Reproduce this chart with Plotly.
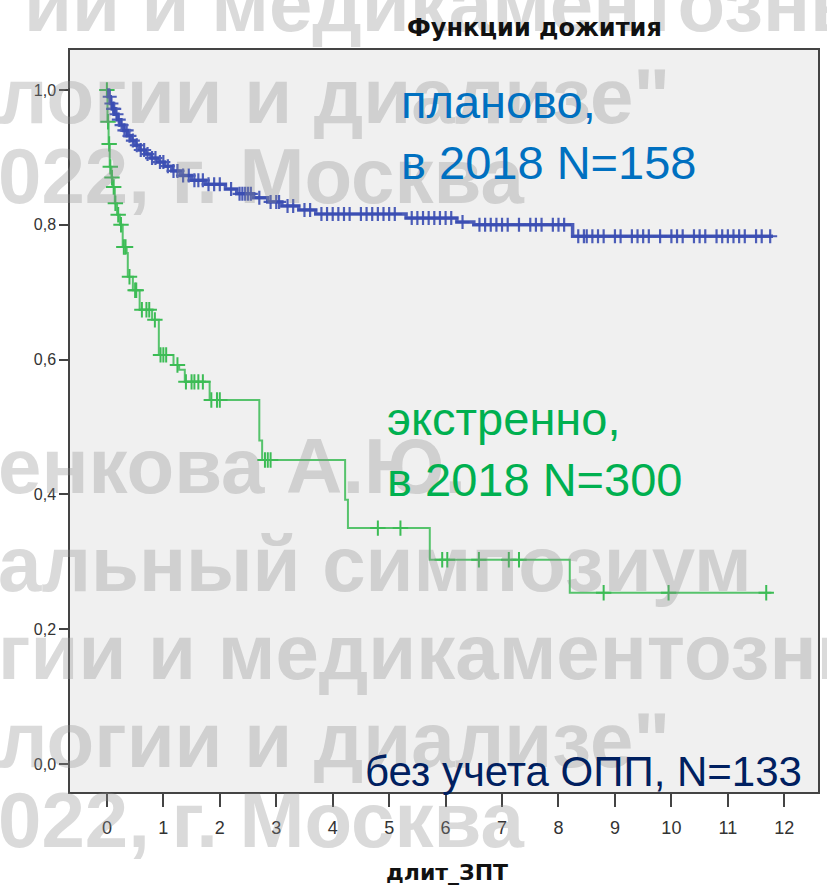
import numpy as np
import plotly.graph_objects as go

# ---------------- data ----------------
blue_t = [0, 0.03, 0.06, 0.1, 0.14, 0.19, 0.24, 0.3, 0.36, 0.43, 0.5, 0.58, 0.68, 0.78, 0.9,
          1.02, 1.15, 1.3, 1.5, 1.75, 2.1, 2.3, 2.6, 2.85, 3.1, 3.4, 3.7, 5.3, 6.2, 6.5, 8.25]
blue_s = [1.0, 0.99, 0.98, 0.972, 0.964, 0.956, 0.948, 0.94, 0.932, 0.925, 0.918, 0.911, 0.905,
          0.899, 0.893, 0.887, 0.88, 0.873, 0.866, 0.86, 0.853, 0.846, 0.84, 0.834, 0.828, 0.822,
          0.816, 0.81, 0.804, 0.80, 0.783]
blue_end = 11.8
blue_censor = [0.05, 0.08, 0.11, 0.13, 0.17, 0.21, 0.26, 0.31, 0.35, 0.4, 0.46, 0.53, 0.6, 0.66,
               0.72, 0.8, 0.86, 0.94, 1.0, 1.08, 1.18, 1.25, 1.35, 1.45, 1.55, 1.62, 1.7, 1.8, 1.9,
               2.0, 2.2, 2.35, 2.4, 2.45, 2.5, 2.55, 2.7, 2.9, 3.0, 3.05, 3.2, 3.3, 3.5, 3.6, 3.8,
               3.9, 4.0, 4.1, 4.2, 4.3, 4.5, 4.6, 4.7, 4.8, 4.9, 5.0, 5.1, 5.4, 5.5, 5.6, 5.7, 5.8,
               5.9, 6.0, 6.1, 6.3, 6.6, 6.7, 6.8, 6.9, 7.0, 7.1, 7.3, 7.5, 7.6, 7.7, 7.9, 8.0, 8.1,
               8.35, 8.45, 8.5, 8.6, 8.7, 8.8, 9.0, 9.1, 9.3, 9.4, 9.5, 9.6, 9.8, 10.0, 10.1, 10.2,
               10.4, 10.5, 10.6, 10.8, 10.9, 11.0, 11.1, 11.2, 11.3, 11.5, 11.6, 11.75]

green_t = [0, 0.01, 0.03, 0.05, 0.08, 0.1, 0.14, 0.18, 0.23, 0.28, 0.35, 0.37, 0.46, 0.58, 0.8,
           0.92, 1.18, 1.28, 1.38, 1.82, 2.7, 2.75, 4.22, 4.27, 5.72, 8.2]
green_s = [1.0, 0.953, 0.92, 0.886, 0.87, 0.856, 0.832, 0.815, 0.80, 0.767, 0.758, 0.723, 0.703,
           0.674, 0.659, 0.607, 0.592, 0.585, 0.567, 0.54, 0.48, 0.451, 0.392, 0.35, 0.303, 0.254]
green_end = 11.77
green_censor = [0.0, 0.02, 0.04, 0.06, 0.09, 0.12, 0.15, 0.2, 0.25, 0.3, 0.33, 0.4, 0.5, 0.52,
                0.62, 0.7, 0.75, 0.85, 0.95, 1.0, 1.05, 1.25, 1.4, 1.5, 1.55, 1.62, 1.7, 1.85,
                1.95, 2.0, 2.8, 2.85, 2.9, 4.8, 5.2, 5.94, 6.03, 6.59, 7.12, 7.3, 8.8, 9.95, 11.68]

y_tick_vals = [0.0, 0.2, 0.4, 0.6, 0.8, 1.0]
y_tick_text = ["0,0", "0,2", "0,4", "0,6", "0,8", "1,0"]
x_tick_vals = list(range(0, 13))

title_text = "Функции дожития"
x_title = "длит_ЗПТ"
label_planned = "планово,<br>в 2018 N=158"
label_emerg = "экстренно,<br>в 2018 N=300"
label_all = "без учета ОПП, N=133"

watermark = [
    ("ии и медикаментозны", 22, 4),
    ("логии и диализе\"", -4, 96),
    ("022, г. Москва", -4, 176),
    ("енкова А.Ю.", -4, 466),
    ("альный симпозиум", -4, 564),
    ("гии и медикаментозны", -4, 652),
    ("логии и диализе\"", -4, 740),
    ("022, г. Москва", -4, 820),
]

# ---------------- helpers ----------------
def km_at(times, surv, t):
    idx = np.searchsorted(np.array(times), t, side="right") - 1
    return float(np.array(surv)[idx])

W, H = 827, 893
L, R, T, B = 70, 7, 50, 101
PW, PH = W - L - R, H - T - B

def px(x):
    return (x - L) / PW

def py(y):
    return (H - B - y) / PH

BLUE = "#3a4db3"
GREEN = "#3cbc55"
SANS = "Liberation Sans, Arial, sans-serif"
WIDE = "DejaVu Sans, Liberation Sans, sans-serif"

fig = go.Figure()

# green curve
fig.add_trace(go.Scatter(x=green_t + [green_end], y=green_s + [green_s[-1]], mode="lines",
                         line=dict(color=GREEN, width=2, shape="hv"), opacity=0.85,
                         showlegend=False, hoverinfo="skip"))
fig.add_trace(go.Scatter(x=green_censor, y=[km_at(green_t, green_s, t) for t in green_censor],
                         mode="markers", marker=dict(symbol="cross-thin", size=11,
                                                     line=dict(color=GREEN, width=2)),
                         showlegend=False, hoverinfo="skip"))
# blue curve
fig.add_trace(go.Scatter(x=blue_t + [blue_end], y=blue_s + [blue_s[-1]], mode="lines",
                         line=dict(color=BLUE, width=3.5, shape="hv"), opacity=0.9,
                         showlegend=False, hoverinfo="skip"))
fig.add_trace(go.Scatter(x=blue_censor, y=[km_at(blue_t, blue_s, t) for t in blue_censor],
                         mode="markers", marker=dict(symbol="cross-thin", size=10,
                                                     line=dict(color=BLUE, width=2.2)),
                         opacity=0.9, showlegend=False, hoverinfo="skip"))

annotations = []
for text, x0, y0 in watermark:
    annotations.append(dict(text="<b>" + text + "</b>", xref="paper", yref="paper",
                            x=px(x0), y=py(y0), xanchor="left", yanchor="middle",
                            showarrow=False,
                            font=dict(family=SANS, size=78, color="rgba(140,140,140,0.32)")))

annotations += [
    dict(text="<b>" + title_text + "</b>", xref="paper", yref="paper", x=px(536), y=py(28),
         xanchor="center", yanchor="middle", showarrow=False,
         font=dict(family=WIDE, size=24, color="#111111")),
    dict(text="<b>" + x_title + "</b>", xref="paper", yref="paper", x=px(448), y=py(872),
         xanchor="center", yanchor="middle", showarrow=False,
         font=dict(family=WIDE, size=22, color="#111111")),
    dict(text=label_planned, xref="paper", yref="paper", x=px(400), y=py(132),
         xanchor="left", yanchor="middle", align="left", showarrow=False,
         font=dict(family=SANS, size=47, color="#0070C0")),
    dict(text=label_emerg, xref="paper", yref="paper", x=px(386), y=py(449),
         xanchor="left", yanchor="middle", align="left", showarrow=False,
         font=dict(family=SANS, size=47, color="#00B050")),
    dict(text=label_all, xref="paper", yref="paper", x=px(806), y=py(771),
         xanchor="right", yanchor="middle", showarrow=False,
         font=dict(family=SANS, size=42, color="#002060")),
]

x0_data = -37 / 56.6
x1_data = 12 + (W - R - 107 - 12 * 56.6) / 56.6
y0_data = (764 - (H - B)) / 674
y1_data = (764 - T) / 674

fig.update_layout(
    width=W, height=H, margin=dict(l=L, r=R, t=T, b=B),
    paper_bgcolor="white", plot_bgcolor="#f0f0f0",
    annotations=annotations,
    xaxis=dict(range=[x0_data, x1_data], tickvals=x_tick_vals, ticks="outside", ticklen=13,
               tickwidth=1.5, tickcolor="#444", showgrid=False, zeroline=False,
               showline=True, mirror=True, linecolor="#444", linewidth=1.5,
               ticklabelstandoff=6, tickfont=dict(family=SANS, size=18, color="#333")),
    yaxis=dict(range=[y0_data, y1_data], tickvals=y_tick_vals, ticktext=y_tick_text,
               ticks="outside", ticklen=9, tickwidth=1.5, tickcolor="#444", showgrid=False,
               zeroline=False, showline=True, mirror=True, linecolor="#444", linewidth=1.5,
               tickfont=dict(family=SANS, size=16, color="#333")),
)

fig.write_html("out.html")
